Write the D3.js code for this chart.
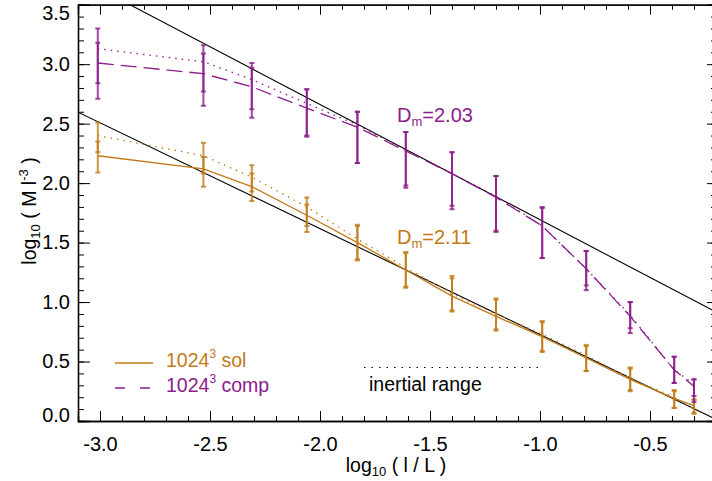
<!DOCTYPE html>
<html>
<head>
<meta charset="utf-8">
<script src="https://cdn.jsdelivr.net/npm/d3@7"></script>
<style>
  body { margin: 0; background: #fff; }
  text { font-family: "Liberation Sans", Arial, Helvetica, sans-serif; }
</style>
</head>
<body>
<script>
// scale sizes log10(l/L)
const logL = [-3.01, -2.53, -2.31, -2.06, -1.83, -1.61, -1.40, -1.20, -0.99, -0.79, -0.59, -0.39, -0.30];

// compressive run: dashed and dotted curves, with error bars
const compDash = [3.01, 2.92, 2.81, 2.63, 2.47, 2.27, 2.08, 1.88, 1.64, 1.28, 0.88, 0.43, 0.29];
const compDashLo = [2.71, 2.65, 2.55, 2.40, 2.17, 1.98, 1.81, 1.60, 1.37, 1.14, 0.78, 0.32, 0.21];
const compDashHi = [3.18, 3.09, 2.97, 2.79, 2.60, 2.43, 2.26, 2.06, 1.80, 1.43, 1.00, 0.54, 0.35];
const compDot = [3.13, 3.02, 2.87, 2.67, 2.49, 2.28, 2.08, 1.89, 1.64, 1.28, 0.89, 0.43, 0.31];
const compDotLo = [2.84, 2.77, 2.62, 2.39, 2.17, 1.96, 1.78, 1.59, 1.37, 1.10, 0.74, 0.32, 0.16];
const compDotHi = [3.30, 3.16, 3.01, 2.79, 2.60, 2.43, 2.26, 2.06, 1.79, 1.43, 1.00, 0.54, 0.35];

// solenoidal run: solid and dotted curves, with error bars
const solLine = [2.23, 2.12, 1.97, 1.73, 1.50, 1.27, 1.05, 0.88, 0.71, 0.53, 0.35, 0.19, 0.13];
const solLineLo = [2.09, 1.97, 1.85, 1.59, 1.35, 1.12, 0.92, 0.76, 0.58, 0.42, 0.26, 0.11, 0.07];
const solLineHi = [2.35, 2.22, 2.08, 1.82, 1.64, 1.41, 1.20, 1.02, 0.83, 0.63, 0.44, 0.25, 0.18];
const solDot = [2.40, 2.23, 2.05, 1.80, 1.53, 1.29, 1.07, 0.90, 0.73, 0.55, 0.36, 0.20, 0.10];
const solDotLo = [2.26, 2.08, 1.93, 1.64, 1.36, 1.13, 0.93, 0.77, 0.59, 0.42, 0.25, 0.11, 0.06];
const solDotHi = [2.51, 2.34, 2.15, 1.88, 1.65, 1.42, 1.22, 1.03, 0.84, 0.64, 0.45, 0.26, 0.18];

// power law fits: slope = D_m - 3
const fitSlopes = [-0.97, -0.89];
const fitIntercepts = [0.722, -0.163];
const fitLabels = ["2.03", "2.11"];

// inertial range marker
const inertialRange = [-1.8, -1.0];
const inertialLevel = 0.45;

const xMajor = [-3.0, -2.5, -2.0, -1.5, -1.0, -0.5];
const yMajor = [0.0, 0.5, 1.0, 1.5, 2.0, 2.5, 3.0, 3.5];

const purple = "#8b1c8b";
const orange = "#c27a17";

const width = 712;
const height = 481;
const mLeft = 78, mRight = 716, mTop = 4.7, mBottom = 421;

const svg = d3.select("body").append("svg")
  .attr("width", width)
  .attr("height", height);

const x = d3.scaleLinear().domain([-3.1, -0.2]).range([mLeft, mRight]);
const y = d3.scaleLinear().domain([0, 3.5]).range([mBottom, mTop]);

svg.append("clipPath").attr("id", "plot-clip")
  .append("rect")
  .attr("x", mLeft).attr("y", mTop)
  .attr("width", mRight - mLeft).attr("height", mBottom - mTop);

const plot = svg.append("g").attr("clip-path", "url(#plot-clip)");

function minorTicks(lo, hi) {
  const t = [];
  for (let i = Math.round(lo * 10); i <= Math.round(hi * 10); i++) t.push(i / 10);
  return t;
}

function drawAxes() {
  const fmt = d => d.toFixed(1);
  const xMinor = minorTicks(-3.1, -0.2);
  const yMinor = minorTicks(0, 3.5);

  // bottom
  svg.append("g").attr("transform", `translate(0,${mBottom})`)
    .call(d3.axisBottom(x).tickValues(xMinor).tickSize(-5).tickFormat(""));
  svg.append("g").attr("class", "xlab").attr("transform", `translate(0,${mBottom})`)
    .call(d3.axisBottom(x).tickValues(xMajor).tickSize(-10).tickPadding(16).tickFormat(fmt));
  // top
  svg.append("g").attr("transform", `translate(0,${mTop})`)
    .call(d3.axisTop(x).tickValues(xMinor).tickSize(-5).tickFormat(""));
  svg.append("g").attr("transform", `translate(0,${mTop})`)
    .call(d3.axisTop(x).tickValues(xMajor).tickSize(-10).tickFormat(""));
  // left
  svg.append("g").attr("transform", `translate(${mLeft},0)`)
    .call(d3.axisLeft(y).tickValues(yMinor).tickSize(-6).tickFormat(""));
  svg.append("g").attr("class", "ylab").attr("transform", `translate(${mLeft},0)`)
    .call(d3.axisLeft(y).tickValues(yMajor).tickSize(-12).tickPadding(8).tickFormat(fmt));
  // right
  svg.append("g").attr("transform", `translate(${mRight},0)`)
    .call(d3.axisRight(y).tickValues(yMinor).tickSize(-5).tickFormat(""));
  svg.append("g").attr("transform", `translate(${mRight},0)`)
    .call(d3.axisRight(y).tickValues(yMajor).tickSize(-9).tickFormat(""));

  svg.selectAll(".domain").attr("stroke", "#000").attr("stroke-width", 1.3);
  svg.selectAll(".tick line").attr("stroke", "#000").attr("stroke-width", 1);
  svg.selectAll(".tick text")
    .attr("fill", "#000")
    .style("font-size", "20px");

  // end labels sit inside the frame
  svg.selectAll(".ylab .tick text")
    .attr("dy", d => d === 3.5 ? "0.72em" : (d === 0 ? "0.04em" : "0.32em"));

  // axis titles
  const xt = svg.append("text")
    .attr("x", 396).attr("y", 472)
    .attr("text-anchor", "middle")
    .style("font-size", "19.5px");
  xt.append("tspan").text("log");
  xt.append("tspan").attr("dy", 4).style("font-size", "13px").text("10");
  xt.append("tspan").attr("dy", -4).text(" ( l / L )");

  const yt = svg.append("text")
    .attr("transform", "translate(36,211) rotate(-90)")
    .attr("text-anchor", "middle")
    .style("font-size", "19.5px");
  yt.append("tspan").text("log");
  yt.append("tspan").attr("dy", 4).style("font-size", "13px").text("10");
  yt.append("tspan").attr("dy", -4).text(" ( M l");
  yt.append("tspan").attr("dy", -8).style("font-size", "13px").text("-3");
  yt.append("tspan").attr("dy", 8).text(" )");
}

function drawFits() {
  fitSlopes.forEach((s, i) => {
    const xs = [-3.1, -0.2];
    plot.append("path")
      .datum(xs.map(v => [v, fitIntercepts[i] + s * v]))
      .attr("d", d3.line().x(d => x(d[0])).y(d => y(d[1])))
      .attr("fill", "none")
      .attr("stroke", "#000")
      .attr("stroke-width", 1.1);
  });
}

function drawSeries(vals, lo, hi, color, dash, opacity) {
  const pts = logL.map((v, i) => [v, vals[i]]);
  plot.append("path")
    .datum(pts)
    .attr("d", d3.line().x(d => x(d[0])).y(d => y(d[1])))
    .attr("fill", "none")
    .attr("stroke", color)
    .attr("stroke-width", 1.3)
    .attr("stroke-dasharray", dash);

  const g = plot.append("g")
    .attr("stroke", color)
    .attr("stroke-opacity", opacity)
    .attr("stroke-width", 2);
  logL.forEach((v, i) => {
    const cx = x(v);
    g.append("line").attr("x1", cx).attr("x2", cx).attr("y1", y(lo[i])).attr("y2", y(hi[i]));
    g.append("line").attr("x1", cx - 2.5).attr("x2", cx + 2.5).attr("y1", y(lo[i])).attr("y2", y(lo[i]));
    g.append("line").attr("x1", cx - 2.5).attr("x2", cx + 2.5).attr("y1", y(hi[i])).attr("y2", y(hi[i]));
  });
}

function drawLabels() {
  const pos = [[397, 122], [397, 244]];
  fitLabels.forEach((lab, i) => {
    const t = svg.append("text")
      .attr("x", pos[i][0]).attr("y", pos[i][1])
      .attr("fill", i === 0 ? purple : orange)
      .style("font-size", "20px");
    t.append("tspan").text("D");
    t.append("tspan").attr("dy", 4).style("font-size", "13px").text("m");
    t.append("tspan").attr("dy", -4).text("=" + lab);
  });

  // legend
  const legend = [
    {label: " sol", color: orange, dash: null, y: 363},
    {label: " comp", color: purple, dash: "10,15", y: 388}
  ];
  legend.forEach(l => {
    svg.append("line")
      .attr("x1", 115).attr("x2", 153)
      .attr("y1", l.y).attr("y2", l.y)
      .attr("stroke", l.color)
      .attr("stroke-width", 1.3)
      .attr("stroke-dasharray", l.dash);
    const t = svg.append("text")
      .attr("x", 166).attr("y", l.y + 4)
      .attr("fill", l.color)
      .style("font-size", "19.5px");
    t.append("tspan").text("1024");
    t.append("tspan").attr("dy", -9).style("font-size", "12px").text("3");
    t.append("tspan").attr("dy", 9).text(l.label);
  });

  // inertial range
  svg.append("line")
    .attr("x1", x(inertialRange[0])).attr("x2", x(inertialRange[1]))
    .attr("y1", y(inertialLevel)).attr("y2", y(inertialLevel))
    .attr("stroke", "#000")
    .attr("stroke-width", 1.2)
    .attr("stroke-dasharray", "1.5,6");
  svg.append("text")
    .attr("x", 369).attr("y", 391)
    .style("font-size", "19.5px")
    .text("inertial range");
}

drawFits();
drawSeries(solDot, solDotLo, solDotHi, orange, "1.5,5", 0.8);
drawSeries(solLine, solLineLo, solLineHi, orange, null, 0.8);
drawSeries(compDot, compDotLo, compDotHi, purple, "1.5,5", 0.8);
drawSeries(compDash, compDashLo, compDashHi, purple, "16,7", 0.8);
drawAxes();
drawLabels();
</script>
</body>
</html>
